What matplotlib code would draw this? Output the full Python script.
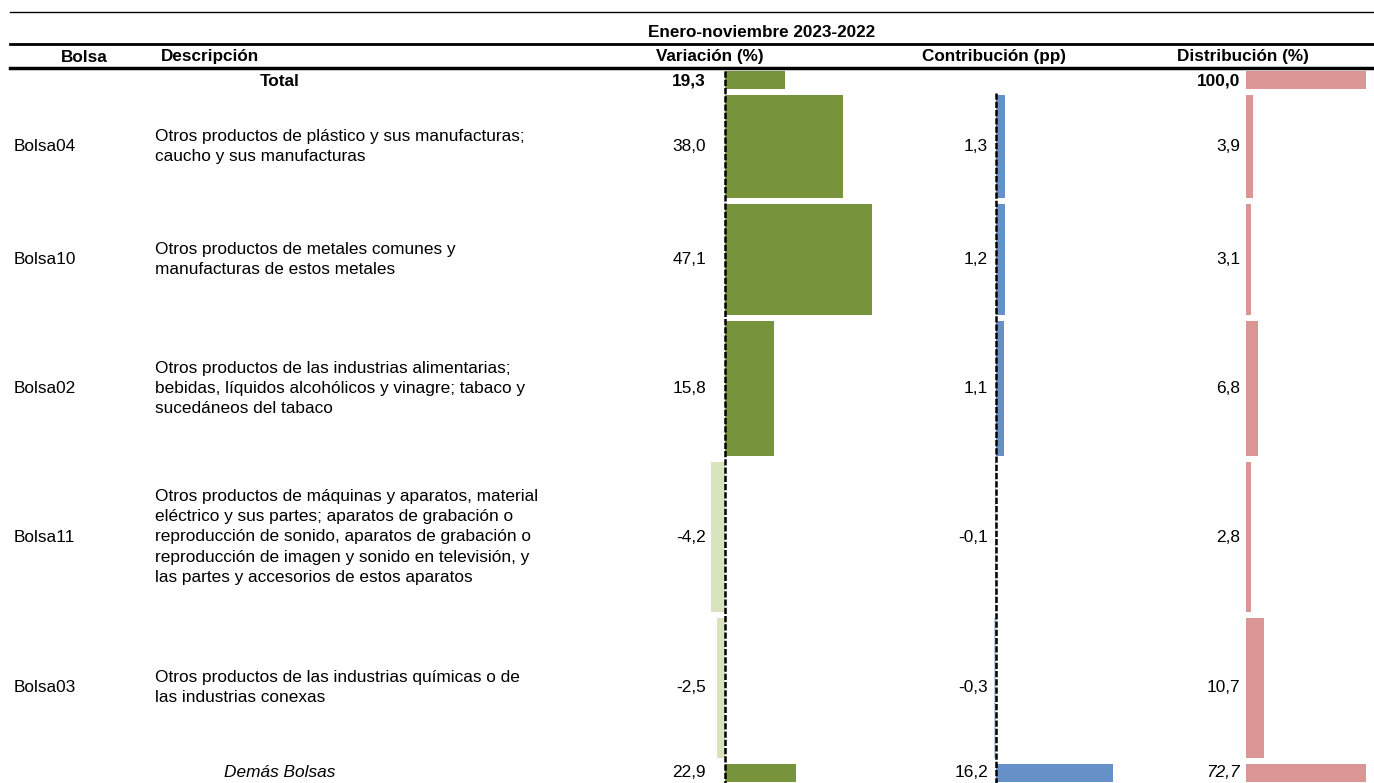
import matplotlib
matplotlib.use("Agg")
import matplotlib.pyplot as plt

plt.rcParams['font.family'] = ['Liberation Sans', 'DejaVu Sans']

# ---------------- data ----------------
bolsas = ["Bolsa04", "Bolsa10", "Bolsa02", "Bolsa11", "Bolsa03"]
descripciones = [
    "Otros productos de plástico y sus manufacturas;\ncaucho y sus manufacturas",
    "Otros productos de metales comunes y\nmanufacturas de estos metales",
    "Otros productos de las industrias alimentarias;\nbebidas, líquidos alcohólicos y vinagre; tabaco y\nsucedáneos del tabaco",
    "Otros productos de máquinas y aparatos, material\neléctrico y sus partes; aparatos de grabación o\nreproducción de sonido, aparatos de grabación o\nreproducción de imagen y sonido en televisión, y\nlas partes y accesorios de estos aparatos",
    "Otros productos de las industrias químicas o de\nlas industrias conexas",
]
variacion = [38.0, 47.1, 15.8, -4.2, -2.5]
contribucion = [1.3, 1.2, 1.1, -0.1, -0.3]
distribucion = [3.9, 3.1, 6.8, 2.8, 10.7]

total_label = "Total"
total_variacion = 19.3
total_distribucion = 100.0

demas_label = "Demás Bolsas"
demas_variacion = 22.9
demas_contribucion = 16.2
demas_distribucion = 72.7

titulo_periodo = "Enero-noviembre 2023-2022"
col_headers = ["Bolsa", "Descripción", "Variación (%)", "Contribución (pp)", "Distribución (%)"]

# ---------------- layout (pixels) ----------------
W, H = 1374, 783
row_edges = [68, 92, 200.5, 318, 459, 615, 760.5, 785]  # total, 5 rows, demás
gap = 6

GREEN, LGREEN = "#77933C", "#D7E4BD"
BLUE, LBLUE = "#6590C8", "#B9CDE5"
PINK = "#DA9694"

fig = plt.figure(figsize=(W / 100, H / 100), dpi=100)


def px_axes(x0, x1, y0, y1):
    ax = fig.add_axes([x0 / W, 1 - y1 / H, (x1 - x0) / W, (y1 - y0) / H])
    ax.set_ylim(y1, y0)
    ax.axis("off")
    return ax


def fmt(v):
    return f"{v:.1f}".replace(".", ",")


centers = [(row_edges[i] + row_edges[i + 1]) / 2 for i in range(len(row_edges) - 1)]
heights = [(row_edges[i + 1] - row_edges[i]) - gap for i in range(len(row_edges) - 1)]

# Overlay axes for text and rules
tx = px_axes(0, W, 0, H)
tx.set_xlim(0, W)

tx.plot([10, W], [12, 12], color="black", lw=1.0)
tx.plot([10, W], [44, 44], color="black", lw=2.0)
tx.plot([10, W], [68, 68], color="black", lw=2.5)

HS = 12.3
tx.text(762, 37, titulo_periodo, ha="center", va="baseline", fontsize=HS, fontweight="bold")
hb = 61.5
tx.text(84, hb, col_headers[0], ha="center", va="baseline", fontsize=HS, fontweight="bold")
tx.text(161, hb, col_headers[1], ha="left", va="baseline", fontsize=HS, fontweight="bold")
tx.text(710, hb, col_headers[2], ha="center", va="baseline", fontsize=HS, fontweight="bold")
tx.text(994, hb, col_headers[3], ha="center", va="baseline", fontsize=HS, fontweight="bold")
tx.text(1243, hb, col_headers[4], ha="center", va="baseline", fontsize=HS, fontweight="bold")

FS = 12.4
# total row
tx.text(280, centers[0] + 1, total_label, ha="center", va="center", fontsize=FS, fontweight="bold")
tx.text(706, centers[0] + 1, fmt(total_variacion), ha="right", va="center", fontsize=FS, fontweight="bold")
tx.text(1240, centers[0] + 1, fmt(total_distribucion), ha="right", va="center", fontsize=FS, fontweight="bold")

for i, (b, d) in enumerate(zip(bolsas, descripciones)):
    y = centers[i + 1]
    tx.text(14, y, b, ha="left", va="center", fontsize=FS)
    tx.text(155, y, d, ha="left", va="center", fontsize=FS, linespacing=1.42)
    tx.text(706, y, fmt(variacion[i]), ha="right", va="center", fontsize=FS)
    tx.text(988, y, fmt(contribucion[i]), ha="right", va="center", fontsize=FS)
    tx.text(1240, y, fmt(distribucion[i]), ha="right", va="center", fontsize=FS)

yd = centers[-1]
tx.text(280, yd, demas_label, ha="center", va="center", fontsize=FS, style="italic")
tx.text(706, yd, fmt(demas_variacion), ha="right", va="center", fontsize=FS)
tx.text(988, yd, fmt(demas_contribucion), ha="right", va="center", fontsize=FS)
tx.text(1240, yd, fmt(demas_distribucion), ha="right", va="center", fontsize=FS, style="italic")

# ---------------- bar columns ----------------
def bar_axes(x0, x1, zero_px, px_per_unit):
    ax = px_axes(x0, x1, row_edges[0], H)
    ax.set_xlim(-(zero_px - x0) / px_per_unit, (x1 - zero_px) / px_per_unit)
    return ax

# Variación
av = bar_axes(700, 900, 724.5, 3.13)
v_all = [total_variacion] + variacion + [demas_variacion]
av.barh(centers, v_all, height=heights, color=[GREEN if v >= 0 else LGREEN for v in v_all], zorder=1)
av.plot([0, 0], [row_edges[0] + 3, H], color="black", lw=1.8, dashes=(2.5, 0.8), zorder=3)

# Contribución
ac = bar_axes(975, 1140, 996, 7.22)
c_all = contribucion + [demas_contribucion]
ac.barh(centers[1:], c_all, height=heights[1:], color=[BLUE if v >= 0 else LBLUE for v in c_all], zorder=1)
ac.plot([0, 0], [row_edges[1] + 1, H], color="black", lw=1.8, dashes=(2.5, 0.8), zorder=3)

# Distribución
ad = bar_axes(1244, 1366, 1246, 1.7)
d_all = [total_distribucion] + distribucion + [demas_distribucion]
ad.barh(centers, d_all, height=heights, color=PINK, zorder=1)

fig.savefig("out.png", dpi=100)
